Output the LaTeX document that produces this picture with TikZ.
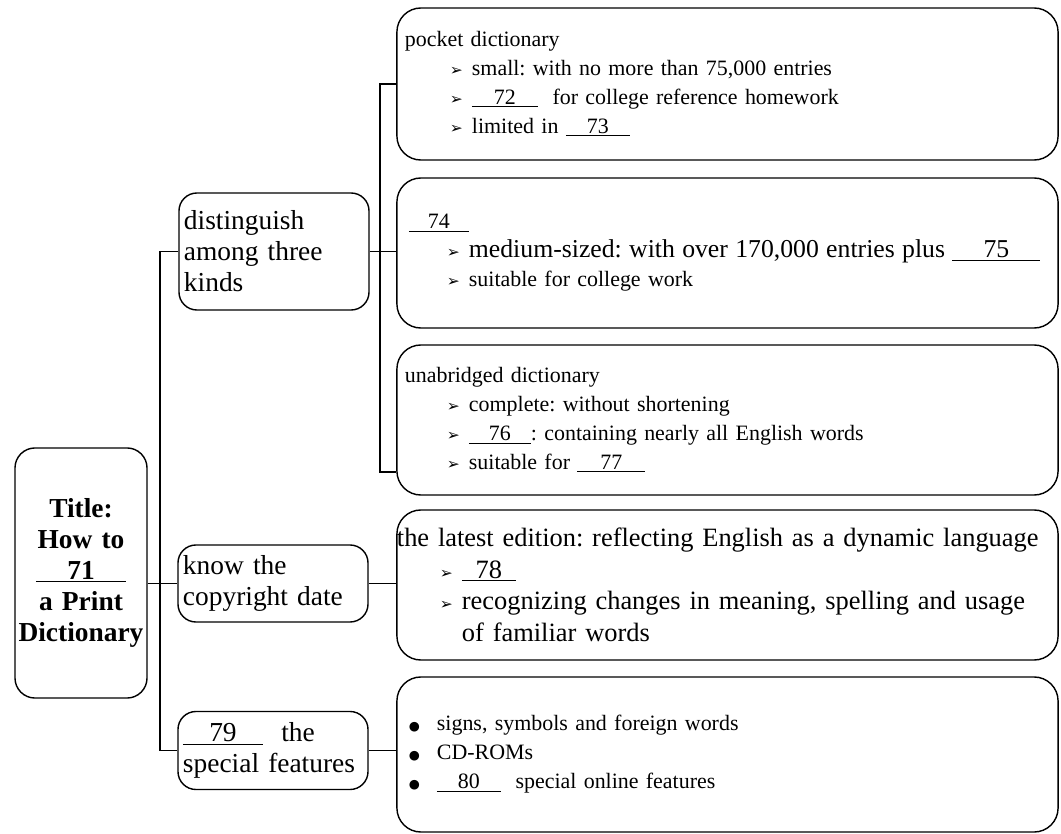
\documentclass[tikz,border=0pt]{standalone}
\usepackage{fontspec}
\setmainfont{Liberation Serif}
\newfontfamily\symfont{DejaVu Sans}
\newcommand{\arw}{{\symfont\fontsize{11}{11}\selectfont ➢}}
\newcommand{\dotmark}{{\symfont\fontsize{9}{9}\selectfont ●}}
\newcommand{\blank}[2][1.6cm]{\underline{\makebox[#1]{#2}}}
\newcommand{\itm}[1][1.05cm]{\hspace*{#1}\makebox[0.55cm][l]{\arw}}
\newcommand{\dotitm}{\hspace*{0.1cm}\makebox[0.7cm][l]{\dotmark}}
\newcommand{\bigfont}{\fontsize{15.6}{20.6}\selectfont}
\newcommand{\midfont}{\fontsize{19.5}{22}\selectfont}
\frenchspacing

\begin{document}
\begin{tikzpicture}[
		x=0.025cm, y=-0.025cm,
		every node/.style={line width=1pt},
		bigbox/.style={draw, rounded corners=0.6cm, text width=16.125cm, inner xsep=0.2cm, align=left, font=\bigfont},
		midbox/.style={draw, rounded corners=0.45cm, text width=4.5cm, inner xsep=0.125cm, align=left, font=\midfont},
		titlebox/.style={draw, rounded corners=0.5cm, text width=3.2cm, inner xsep=0.05cm, minimum height=6.25cm, align=center, font=\midfont\bfseries},
		link/.style={line width=1pt},
	]
	\useasboundingbox (0,0) rectangle (1061,834);

	% left column
	\node[titlebox] (title) at (81,573) {Title:\\How to\\\blank[2.25cm]{71}\\a Print\\Dictionary};

	% middle column
	\node[midbox, minimum height=2.925cm] (dist) at (274,251.5) {distinguish\\among three\\kinds};
	\node[midbox, minimum height=1.925cm] (know) at (273,583.5) {know the\\copyright date};
	\node[midbox, minimum height=1.95cm] (fea79) at (273,750.5) {\blank[2cm]{79}\ \ the\\special features};

	% right column
	\node[bigbox, minimum height=3.8cm] (pocket) at (727.5,84) {pocket dictionary\\
		\itm[1.125cm]small: with no more than 75,000 entries\\
		\itm[1.125cm]\blank[1.65cm]{72}\ \ for college reference homework\\
		\itm[1.125cm]limited in \blank{73}};
	\node[bigbox, minimum height=3.75cm] (kind74) at (727.5,253) {\hspace*{0.1cm}\blank[1.5cm]{74}\\
		\itm{\fontsize{18.3}{20.6}\selectfont medium-sized: with over 170,000 entries plus \blank[2.2cm]{75}}\\
		\itm suitable for college work};
	\node[bigbox, minimum height=3.75cm] (unabr) at (727.5,420) {unabridged dictionary\\
		\itm complete: without shortening\\
		\itm\blank[1.55cm]{76}: containing nearly all English words\\
		\itm suitable for \blank[1.7cm]{77}};
	\node[bigbox, minimum height=3.75cm, font=\fontsize{18.8}{22.5}\selectfont] (latest) at (727.5,585) {\mbox{\hspace*{-0.2cm}the latest edition: reflecting English as a dynamic language}\\
		\itm[0.875cm]\blank[1.35cm]{78}\\
		\itm[0.875cm]recognizing changes in meaning, spelling and usage\\
		\hspace*{1.425cm}of familiar words};
	\node[bigbox, minimum height=3.875cm] (feat) at (727.5,754.5) {\dotitm signs, symbols and foreign words\\
		\dotitm CD-ROMs\\
		\dotitm\blank{80}\ \ special online features};

	% connectors
	\coordinate (trunk) at (160,0);
	\coordinate (branch) at (380,0);
	\coordinate (ubend) at ([yshift=-1.3cm]unabr.west);
	\draw[link] (title.east |- know.west) -- (know.west);
	\draw[link] (dist.west) -- (dist.west -| trunk) -- (fea79.west -| trunk) -- (fea79.west);
	\draw[link] (pocket.west) -- (pocket.west -| branch) -- (ubend -| branch) -- (ubend);
	\draw[link] (dist.east) -- (dist.east -| kind74.west);
	\draw[link] (know.east) -- (know.east -| latest.west);
	\draw[link] (fea79.east) -- (fea79.east -| feat.west);

\end{tikzpicture}
\end{document}
